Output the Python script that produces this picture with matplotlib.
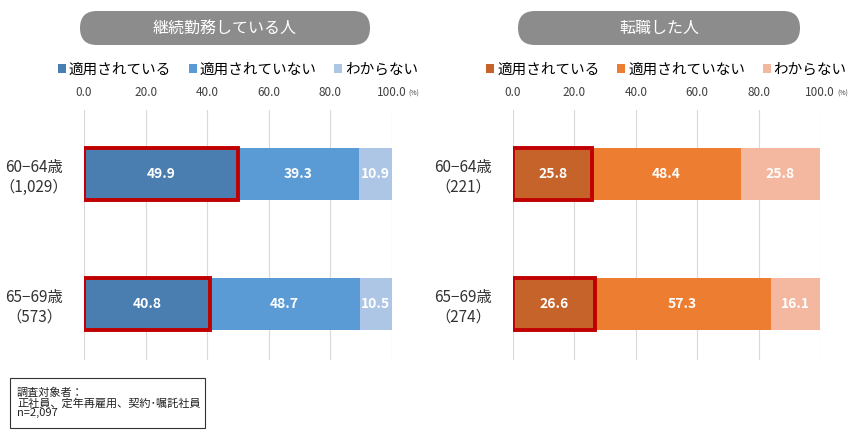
import numpy as np
import matplotlib.pyplot as plt
from matplotlib.patches import FancyBboxPatch, Rectangle

plt.rcParams["font.family"] = "Noto Sans CJK JP"

rows_left = ["60−64歳\n（1,029）", "65−69歳\n（573）"]
rows_right = ["60−64歳\n（221）", "65−69歳\n（274）"]
series = ["適用されている", "適用されていない", "わからない"]
left_vals = [[49.9, 40.8], [39.3, 48.7], [10.9, 10.5]]
right_vals = [[25.8, 26.6], [48.4, 57.3], [25.8, 16.1]]
ticks = [0, 20, 40, 60, 80, 100]

blue = ["#4a7db0", "#5b9bd5", "#adc6e6"]
orange = ["#c5632a", "#ed7d31", "#f4b7a0"]

fig = plt.figure(figsize=(8.65, 4.4), dpi=100)
# overlay axes in pixel units for decorations
deco = fig.add_axes([0, 0, 1, 1], zorder=-1)
deco.set_xlim(0, 865)
deco.set_ylim(440, 0)
deco.axis("off")


def panel(rect, rows, vals, colors, title, pill):
    ax = fig.add_axes(rect)
    y = np.arange(len(rows))
    left = np.zeros(len(rows))
    for i, v in enumerate(vals):
        bars = ax.barh(y, v, left=left, height=0.4, color=colors[i], label=series[i], zorder=2)
        for b, val in zip(bars, v):
            ax.text(b.get_x() + b.get_width() / 2, b.get_y() + b.get_height() / 2, f"{val:.1f}",
                    ha="center", va="center", color="white", fontsize=10, fontweight="bold", zorder=4)
        if i == 0:
            for b in bars:
                ax.add_patch(Rectangle((b.get_x(), b.get_y()), b.get_width(), b.get_height(),
                                       fill=False, ec="#c00000", lw=2.8, zorder=3))
        left += np.array(v)
    ax.set_xlim(0, 100)
    ax.set_ylim(1.431, -0.492)
    ax.set_xticks(ticks)
    ax.set_xticklabels([f"{t:.1f}" for t in ticks], fontsize=8.5, color="#404040")
    ax.xaxis.tick_top()
    ax.tick_params(axis="x", length=0, pad=8)
    ax.set_yticks(y)
    ax.set_yticklabels(rows, fontsize=11, color="#333333", ha="center")
    ax.tick_params(axis="y", length=0, pad=36)
    ax.grid(axis="x", color="#d9d9d9", lw=0.8, zorder=0)
    for s in ax.spines.values():
        s.set_visible(False)
    ax.text(1.055, 1.05, "(%)", transform=ax.transAxes, fontsize=5, color="#404040", va="bottom")
    ax.legend(loc="lower center", bbox_to_anchor=(0.5, 1.11), ncol=3, frameon=False, fontsize=10.5,
              handlelength=0.55, handleheight=0.55, handletextpad=0.2, columnspacing=1.2,
              borderaxespad=0)
    x0, x1 = pill
    deco.add_patch(FancyBboxPatch((x0, 11), x1 - x0, 34, boxstyle="round,pad=0,rounding_size=17",
                                  fc="#8c8c8c", ec="none"))
    deco.text((x0 + x1) / 2, 28, title, ha="center", va="center", color="white", fontsize=11.5)


panel([0.0971, 0.182, 0.356, 0.568], rows_left, left_vals, blue, "継続勤務している人", (80, 370))
panel([0.593, 0.182, 0.355, 0.568], rows_right, right_vals, orange, "転職した人", (518, 800))

deco.add_patch(Rectangle((10, 378), 195, 50, fill=False, ec="#333333", lw=0.8))
deco.text(17, 403, "調査対象者：\n正社員、定年再雇用、契約･嘱託社員\nn=2,097", fontsize=8,
          va="center", linespacing=1.0, color="#222222")

fig.savefig("out.png", dpi=100)
